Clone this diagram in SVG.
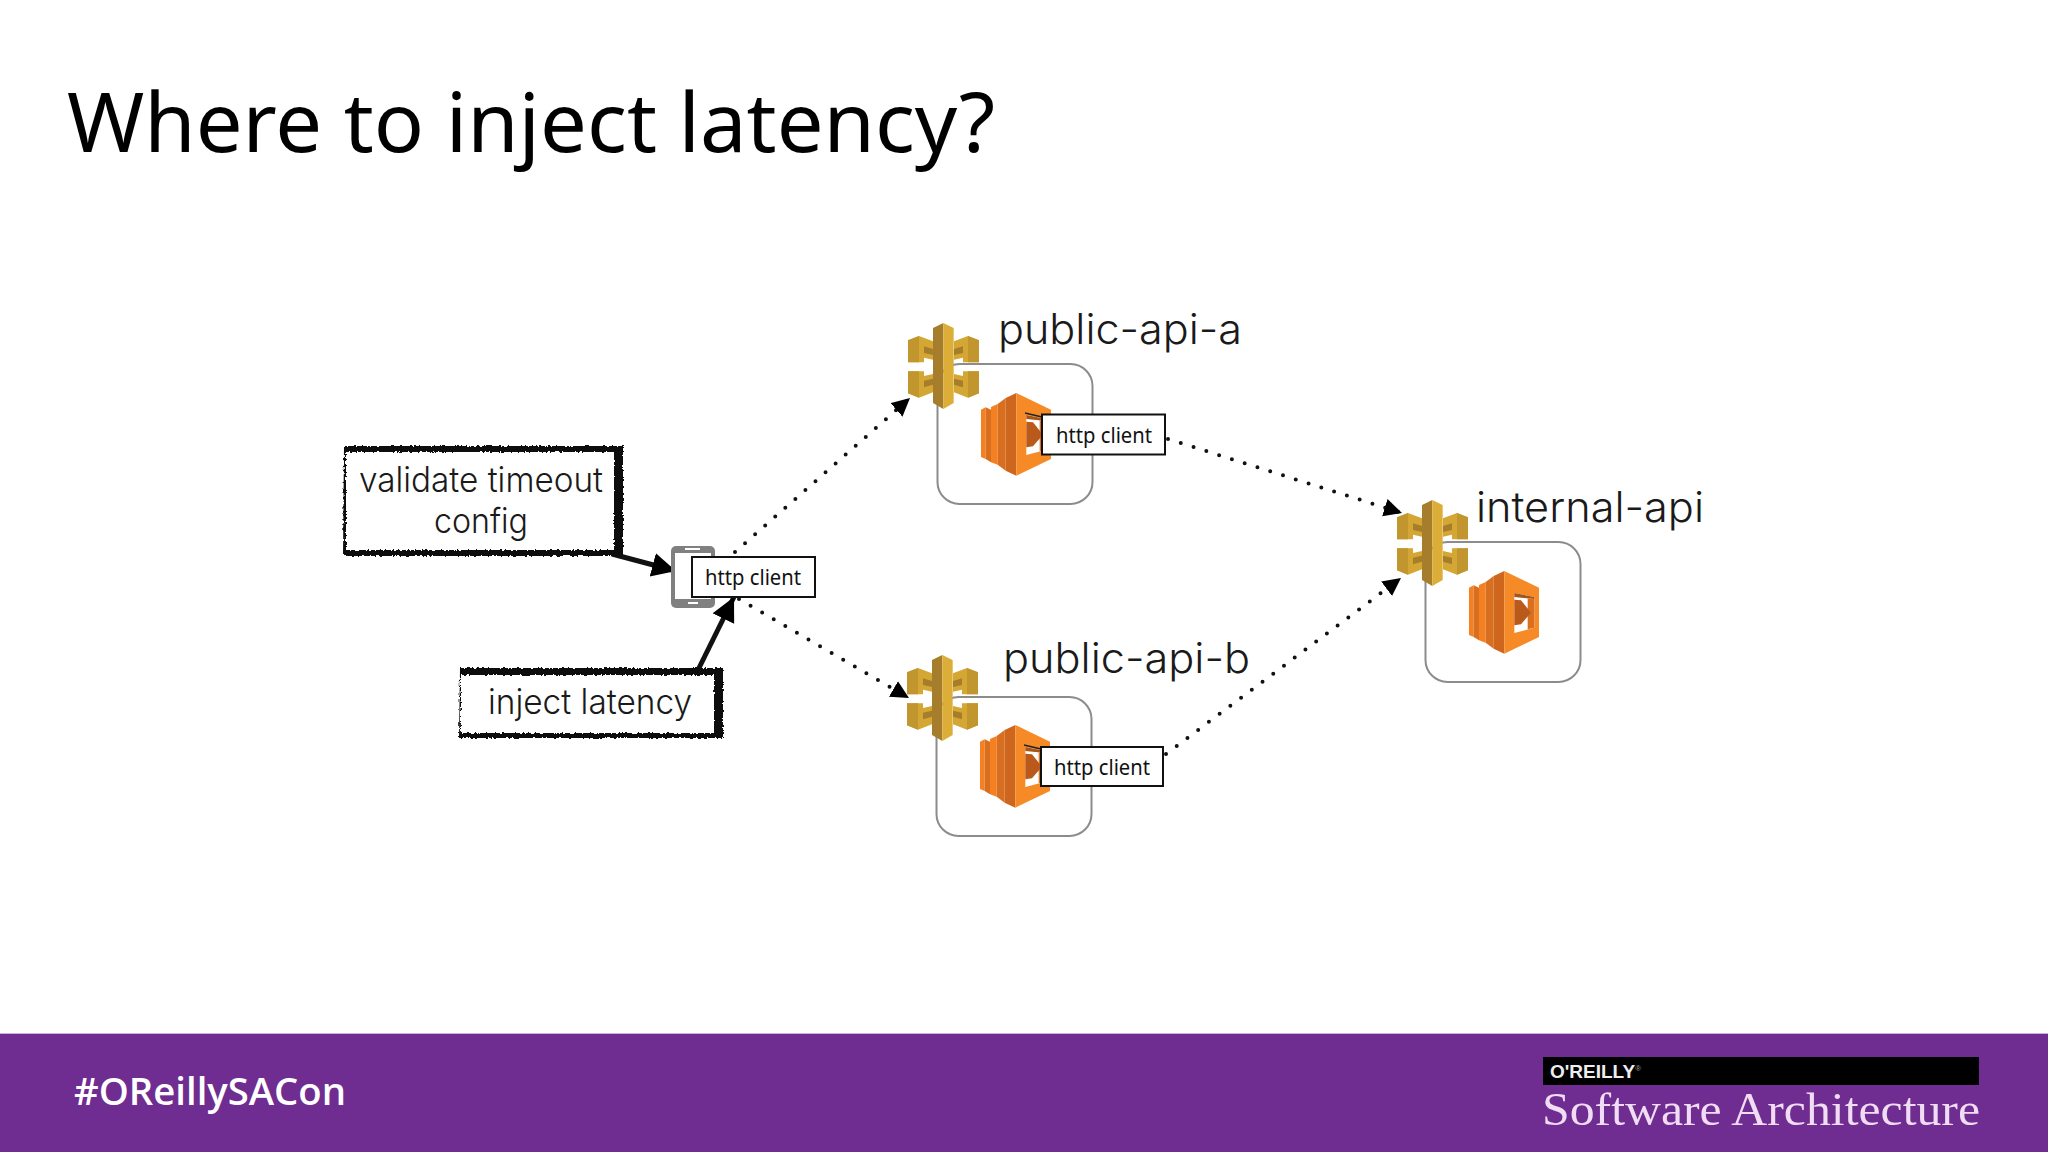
<svg xmlns="http://www.w3.org/2000/svg" width="2048" height="1152" viewBox="0 0 2048 1152">
<style>
.lbl{font-family:"Inter","Liberation Sans",sans-serif;font-weight:300;font-size:42px;fill:#1a1a1a}
.note{font-size:35px}
.ctr{text-anchor:middle}
.http{font-family:"Noto Sans","Liberation Sans",sans-serif;font-size:22px;fill:#111}
.hbox{fill:#fff;stroke:#111;stroke-width:2}
.svc{fill:#fff;stroke:#8c8c8c;stroke-width:2}
.dot{fill:none;stroke:#111;stroke-width:4;stroke-linecap:round;stroke-dasharray:0 13.4;marker-end:url(#ah)}
.thick{fill:none;stroke:#111;stroke-width:5;marker-end:url(#ahb)}
</style>
<defs>
<marker id="ah" markerUnits="userSpaceOnUse" markerWidth="20" markerHeight="20" refX="18" refY="9" orient="auto"><path d="M0 0L18 9L0 18Z" fill="#000"/></marker>
<marker id="ahb" markerUnits="userSpaceOnUse" markerWidth="26" markerHeight="26" refX="24" refY="12" orient="auto"><path d="M0 0L24 12L0 24Z" fill="#000"/></marker>
<filter id="rough" filterUnits="userSpaceOnUse" x="300" y="420" width="460" height="340"><feTurbulence type="fractalNoise" baseFrequency="0.4" numOctaves="2" seed="4"/><feDisplacementMap in="SourceGraphic" scale="4" xChannelSelector="R" yChannelSelector="G"/></filter>
<g id="gwq">
<path d="M0 52L33 39L75 55V110L48 104V118H0Z" fill="#d4a735"/>
<path d="M0 52L33 39V118H0Z" fill="#c2962f"/>
<path d="M48 70L75 78V96L48 90Z" fill="#a67e2b"/>
</g>
<g id="gw" transform="scale(0.3333)">
<use href="#gwq"/>
<use href="#gwq" transform="matrix(-1 0 0 1 213 0)"/>
<use href="#gwq" transform="matrix(1 0 0 -1 0 263)"/>
<use href="#gwq" transform="matrix(-1 0 0 -1 213 263)"/>
<path d="M75 15L106 0V258L75 240Z" fill="#a67e2b"/>
<path d="M106 0L137 15V240L106 258Z" fill="#dcae38"/>
</g>
<g id="lam" transform="scale(0.3333)">
<path d="M0 50L14 43V198L0 192Z" fill="#f58021"/>
<path d="M14 43L30 50V208L14 198Z" fill="#d86f20"/>
<path d="M30 42L50 33V215L30 208Z" fill="#f58021"/>
<path d="M50 33L74 15V233L50 215Z" fill="#d86f20"/>
<path d="M74 15L106 0V248L74 233Z" fill="#cf661d"/>
<path d="M106 0L210 50V198L106 248Z" fill="#f68a26"/>
<path d="M136 66L196 78V170L136 186Z" fill="#fff"/>
<path d="M136 66L196 78V84L136 78Z" fill="#a85618"/>
<path d="M176 82L196 84V170L176 175Z" fill="#d9701f"/>
<path d="M136 86L156 88L186 125L156 160L136 163Z" fill="#b9591c"/>
</g>
</defs>
<rect width="2048" height="1152" fill="#fff"/>
<text x="67" y="152" font-family="Noto Sans,Open Sans,sans-serif" font-size="83" fill="#000" textLength="928" lengthAdjust="spacingAndGlyphs">Where to inject latency?</text>
<g id="connectors">
<path class="dot" d="M735 552L910 398"/>
<path class="dot" d="M739 599L909 698"/>
<path class="dot" d="M1168 439L1402 513"/>
<path class="dot" d="M1166 754L1401 578"/>
<path class="thick" d="M612 554L676 571"/>
<path class="thick" d="M698 670L734 597"/>
</g>
<g id="validate-note">
<g filter="url(#rough)" fill="#111">
<path d="M344 446H623V556H343ZM346 452V550H614V452Z" fill-rule="evenodd"/>
</g>
<text class="lbl note ctr" x="481" y="492" textLength="244" lengthAdjust="spacingAndGlyphs">validate timeout</text>
<text class="lbl note ctr" x="481" y="533" textLength="94" lengthAdjust="spacingAndGlyphs">config</text>
</g>
<g id="inject-note">
<g filter="url(#rough)" fill="#111">
<path d="M460 668H723V738H459ZM461 675V733H714V675Z" fill-rule="evenodd"/>
</g>
<text class="lbl note ctr" x="590" y="714" textLength="204" lengthAdjust="spacingAndGlyphs">inject latency</text>
</g>
<g id="client">
<rect x="671" y="546" width="44" height="62" rx="5" fill="#808080"/>
<rect x="675" y="553" width="36" height="46" fill="#fff"/>
<rect x="685" y="548" width="15" height="2" fill="#fff"/>
<rect x="688" y="602" width="10" height="2" fill="#fff"/>
<rect class="hbox" x="692" y="557" width="123" height="40"/>
<text class="http" x="705" y="585" textLength="96" lengthAdjust="spacingAndGlyphs">http client</text>
</g>
<g id="public-api-a">
<rect class="svc" x="937.500" y="364" width="155" height="140" rx="22"/>
<use href="#lam" transform="translate(981 393)"/>
<use href="#gw" transform="translate(908 323)"/>
<path d="M1025 413L1042 417" stroke="#222" stroke-width="1.500"/>
<rect class="hbox" x="1042" y="414.500" width="123" height="40"/>
<text class="http" x="1056" y="443" textLength="96" lengthAdjust="spacingAndGlyphs">http client</text>
<text class="lbl" x="998" y="344" textLength="244" lengthAdjust="spacingAndGlyphs">public-api-a</text>
</g>
<g id="public-api-b">
<rect class="svc" x="936.500" y="697" width="155" height="139" rx="22"/>
<use href="#lam" transform="translate(980 725)"/>
<use href="#gw" transform="translate(907 655)"/>
<path d="M1024 745L1041 749" stroke="#222" stroke-width="1.500"/>
<rect class="hbox" x="1041" y="747" width="122" height="39"/>
<text class="http" x="1054" y="775" textLength="96" lengthAdjust="spacingAndGlyphs">http client</text>
<text class="lbl" x="1003" y="673" textLength="247" lengthAdjust="spacingAndGlyphs">public-api-b</text>
</g>
<g id="internal-api">
<rect class="svc" x="1425.500" y="542" width="155" height="140" rx="22"/>
<use href="#lam" transform="translate(1469 571)"/>
<use href="#gw" transform="translate(1397 500)"/>
<text class="lbl" x="1476" y="522" textLength="228" lengthAdjust="spacingAndGlyphs">internal-api</text>
</g>
<g id="footer">
<rect y="1033" width="2048" height="1" fill="#c6b0d4"/>
<rect y="1034" width="2048" height="118" fill="#6f2c91"/>
<text x="74" y="1105" font-family="Open Sans,Noto Sans,sans-serif" font-weight="600" font-size="38" fill="#fff" textLength="272" lengthAdjust="spacingAndGlyphs">#OReillySACon</text>
<rect x="1543" y="1057" width="436" height="28" fill="#000"/>
<text x="1550" y="1078" font-family="Liberation Sans,sans-serif" font-weight="700" font-size="19" fill="#eee">O'REILLY<tspan font-size="8" dy="-7" font-weight="400" fill="#999">®</tspan></text>
<text x="1542" y="1125" font-family="Liberation Serif,serif" font-size="47" fill="#f0dcf3" textLength="438" lengthAdjust="spacingAndGlyphs">Software Architecture</text>
</g>
</svg>
